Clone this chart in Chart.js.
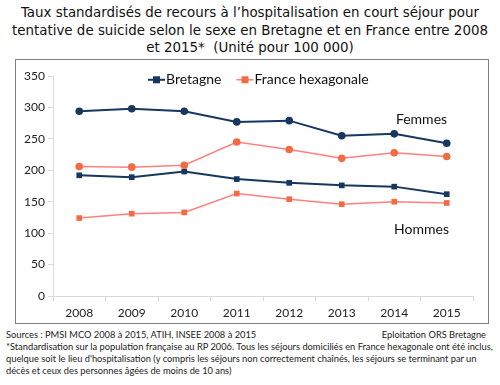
<!DOCTYPE html>
<html>
<head>
<meta charset="utf-8">
<script src="https://cdn.jsdelivr.net/npm/chart.js@4"></script>
<style>
  body { margin: 0; width: 500px; height: 385px; background: #fff; position: relative; overflow: hidden; }
  #title { position: absolute; left: 0; top: 4px; width: 500px; text-align: center;
    font-family: "DejaVu Sans Condensed", "DejaVu Sans", sans-serif; font-size: 14.9px; line-height: 17.5px; color: #111; }
  #box { position: absolute; left: 15px; top: 59px; width: 472px; height: 263px; border: 1px solid #7f7f7f; }
  #wrap { position: absolute; left: 16px; top: 60px; width: 472px; height: 263px; }
  #notes { position: absolute; left: 6px; top: 329px; width: 490px; font-family: Lato, sans-serif;
    font-size: 9.3px; line-height: 12px; color: #222; white-space: nowrap; }
  #notes .r { position: absolute; right: 10px; top: 0; }
</style>
</head>
<body>
<div id="title">Taux standardisés de recours à l’hospitalisation en court séjour pour<br>tentative de suicide selon le sexe en Bretagne et en France entre 2008<br>et 2015*&nbsp; (Unité pour 100 000)</div>
<div id="box"></div>
<div id="wrap"><canvas id="c" width="472" height="263"></canvas></div>
<div id="notes">
  <div>Sources : PMSI MCO 2008 à 2015, ATIH, INSEE 2008 à 2015</div>
  <div class="r">Eploitation ORS Bretagne</div>
  <div>*Standardisation sur la population française au RP 2006. Tous les séjours domiciliés en France hexagonale ont été inclus,</div>
  <div>quelque soit le lieu d'hospitalisation (y compris les séjours non correctement chaînés, les séjours se terminant par un</div>
  <div>décès et ceux des personnes âgées de moins de 10 ans)</div>
</div>
<script>
const years = ['2008', '2009', '2010', '2011', '2012', '2013', '2014', '2015'];
const bretagneFemmes = [294, 298, 294, 277, 279, 255, 258, 243];
const franceFemmes = [206, 205, 208, 245, 233, 219, 228, 222];
const bretagneHommes = [192, 189, 198, 186, 180, 176, 174, 162];
const franceHommes = [124, 131, 133, 163, 154, 146, 150, 148];
const yTicks = [0, 50, 100, 150, 200, 250, 300, 350];

const navy = '#17375e';
const salmonLine = '#ff8080';
const salmonMark = '#f26b43';

function ds(label, data, line, mark, shape, width) {
  return {
    label: label, data: data, borderColor: line, borderWidth: width,
    pointStyle: shape, pointRadius: shape === 'rect' ? 4 : 3.8,
    pointBackgroundColor: mark, pointBorderColor: mark, pointBorderWidth: 0,
    tension: 0, fill: false
  };
}

const extras = {
  id: 'extras',
  afterDraw(chart) {
    const c = chart.ctx;
    const x = chart.scales.x, y = chart.scales.y;
    c.save();
    c.font = '14px Lato, sans-serif';
    c.fillStyle = '#111';
    c.textBaseline = 'middle';
    c.textAlign = 'center';
    const mx = (x.getPixelForTick(6) + x.getPixelForTick(7)) / 2 + 1;
    c.fillText('Femmes', mx, y.getPixelForValue(281));
    c.fillText('Hommes', mx, y.getPixelForValue(106));
    // legend
    const items = [['Bretagne', navy, navy, 2], ['France hexagonale', salmonLine, salmonMark, 1.5]];
    let lx = 132;
    const ly = y.getPixelForValue(344);
    c.textAlign = 'left';
    items.forEach(it => {
      c.strokeStyle = it[1]; c.lineWidth = it[3];
      c.beginPath(); c.moveTo(lx, ly); c.lineTo(lx + 17, ly); c.stroke();
      c.fillStyle = it[2]; c.fillRect(lx + 5, ly - 3.5, 7, 7);
      c.fillStyle = '#111';
      c.fillText(it[0], lx + 18, ly);
      lx += 18 + c.measureText(it[0]).width + 15;
    });
    c.restore();
  }
};

new Chart(document.getElementById('c'), {
  type: 'line',
  data: {
    labels: years,
    datasets: [
      ds('Bretagne Femmes', bretagneFemmes, navy, navy, 'circle', 2),
      ds('France Femmes', franceFemmes, salmonLine, salmonMark, 'circle', 1.5),
      ds('Bretagne Hommes', bretagneHommes, navy, navy, 'rect', 2),
      ds('France Hommes', franceHommes, salmonLine, salmonMark, 'rect', 1.5)
    ]
  },
  options: {
    responsive: false, animation: false,
    layout: { padding: { top: 16, right: 15, left: 0, bottom: 0 } },
    plugins: { legend: { display: false }, tooltip: { enabled: false } },
    scales: {
      x: {
        offset: true,
        grid: { display: true, drawOnChartArea: false, color: '#d9d9d9', tickLength: 5, offset: true },
        border: { color: '#d9d9d9' },
        ticks: { color: '#222', font: { family: 'Lato', size: 12 }, padding: 5, maxRotation: 0 },
        afterFit(s) { s.height = 27; }
      },
      y: {
        min: 0, max: 350,
        afterBuildTicks(s) { s.ticks = yTicks.map(v => ({ value: v })); },
        grid: { display: true, drawOnChartArea: false, color: '#d9d9d9', tickLength: 5 },
        border: { color: '#d9d9d9' },
        ticks: { color: '#222', font: { family: 'Lato', size: 12 }, padding: 3 },
        afterFit(s) { s.width = 37; }
      }
    }
  },
  plugins: [extras]
});
</script>
</body>
</html>
